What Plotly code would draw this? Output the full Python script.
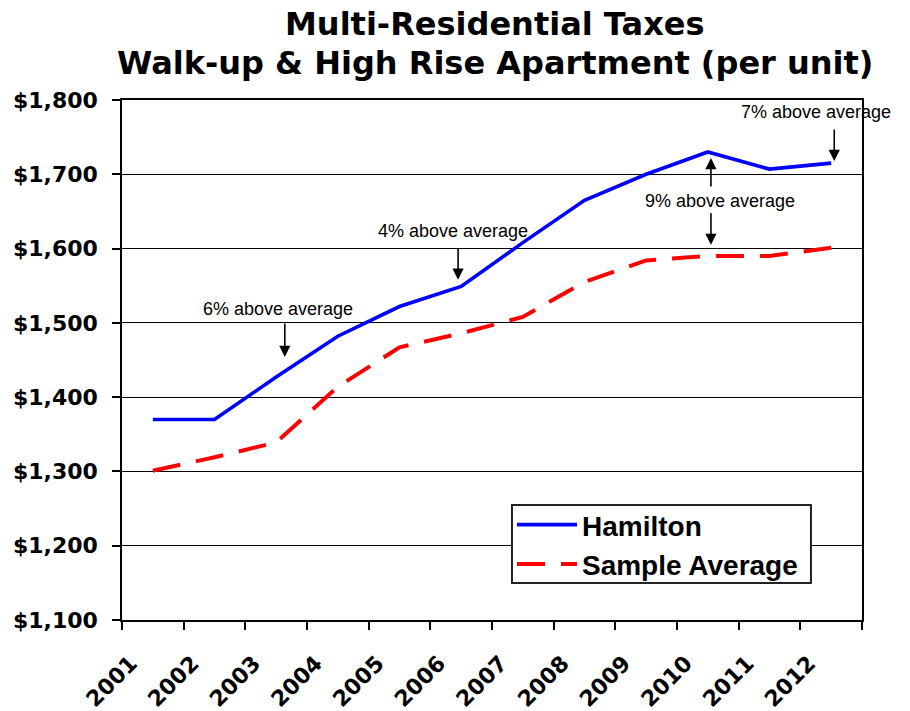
import plotly.graph_objects as go

years = ["2001", "2002", "2003", "2004", "2005", "2006",
         "2007", "2008", "2009", "2010", "2011", "2012"]
hamilton = [1370, 1370, 1427, 1482, 1522, 1549, 1608, 1665, 1700, 1730, 1707, 1715]
sample_avg = [1301, 1319, 1339, 1414, 1467, 1486, 1508, 1555, 1584, 1590, 1590, 1601]

title_lines = ["Multi-Residential Taxes", "Walk-up &amp; High Rise Apartment (per unit)"]

# annotation texts and their anchor positions (category index, value)
note_texts = ["6% above average", "4% above average", "9% above average", "7% above average"]
note_x = [2.03, 4.87, 9.2, 10.75]
note_y = [1519, 1624, 1664, 1784]
# arrows: (category index, head value, tail pixel offset)
arrow_x = [2.14, 4.95, 9.05, 9.05, 11.05]
arrow_y = [1454, 1558, 1722, 1605, 1718]
arrow_ay = [-35, -33, 30, -33, -33]

fig = go.Figure()
fig.add_trace(go.Scatter(
    x=years, y=hamilton, mode="lines", name="Hamilton",
    line=dict(color="#0000FF", width=3.6), legendgroup="a"))
fig.add_trace(go.Scatter(
    x=years, y=sample_avg, mode="lines", name="Sample Average",
    line=dict(color="#FF0000", width=4, dash="28px,16px"), legendgroup="b"))

for t, x, y in zip(note_texts, note_x, note_y):
    fig.add_annotation(x=x, y=y, xref="x", yref="y", text=t, showarrow=False,
                       font=dict(family="Liberation Sans, Arial", size=18, color="black"))
for x, y, ay in zip(arrow_x, arrow_y, arrow_ay):
    fig.add_annotation(x=x, y=y, xref="x", yref="y", text="", showarrow=True,
                       ax=0, ay=ay, arrowhead=2, arrowsize=1.4, arrowwidth=1.6,
                       arrowcolor="black", standoff=0)

# title as two centred lines
for i, line in enumerate(title_lines):
    fig.add_annotation(x=0.504, y=1.147 - i * 0.076, xref="paper", yref="paper",
                       xanchor="center", yanchor="middle", showarrow=False,
                       borderpad=0, text="<b>" + line + "</b>",
                       font=dict(family="DejaVu Sans", size=32, color="black"))

# legend frame
fig.add_shape(type="rect", xref="paper", yref="paper",
              x0=0.527, x1=0.931, y0=0.071, y1=0.221,
              fillcolor="white", line=dict(color="#222222", width=2), layer="above")

tick_font = dict(family="DejaVu Sans", size=22, color="black", weight="bold")

fig.update_layout(
    width=910, height=711,
    margin=dict(l=122, r=48, t=100, b=91, autoexpand=False),
    paper_bgcolor="white", plot_bgcolor="white",
    showlegend=True,
    legend=dict(x=0.527, y=0.231, xanchor="left", yanchor="top",
                bgcolor="rgba(0,0,0,0)", borderwidth=0,
                font=dict(family="Liberation Sans, Arial", size=28, color="black", weight="bold"),
                itemwidth=60, tracegroupgap=0),
    xaxis=dict(type="category", tickson="boundaries", ticks="outside", ticklen=8,
               tickcolor="black", tickwidth=1.5, automargin=False,
               showline=True, linecolor="black", linewidth=1.5, mirror=True,
               showgrid=False, tickangle=-45, tickfont=tick_font,
               ticklabelshift=-22, ticklabelstandoff=20, range=[-0.5, 11.5]),
    yaxis=dict(range=[1100, 1800], dtick=100, tickformat=",", tickprefix="$",
               ticks="outside", ticklen=8, tickcolor="black", tickwidth=1.5,
               automargin=False, ticklabelstandoff=10,
               showline=True, linecolor="black", linewidth=1.5, mirror=True,
               showgrid=True, gridcolor="black", gridwidth=1, zeroline=False,
               tickfont=tick_font),
)

# remove the page's default body margin so the 910x711 figure fills the window exactly
fig.write_html("out.html", config={"displayModeBar": False},
               post_script="document.body.style.margin='0';")
